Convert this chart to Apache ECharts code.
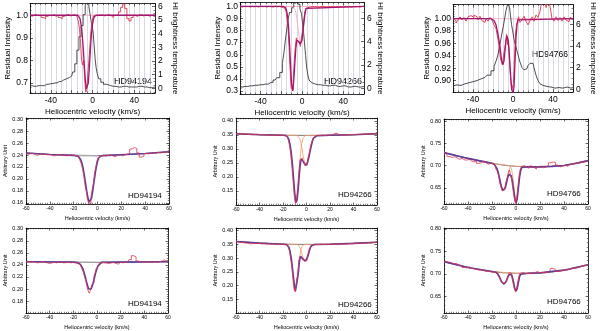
<!DOCTYPE html>
<html>
<head>
<meta charset="utf-8">
<script src="https://cdn.jsdelivr.net/npm/echarts@6/dist/echarts.min.js"></script>
<style>html,body{margin:0;padding:0;background:#fff}#c{width:600px;height:331px}</style>
</head>
<body>
<div id="c"></div>
<script>
// ---- top row: residual intensity + HI brightness temperature ----
const unitLevel = [[-60, 1], [60, 1]];

const hi94194 = [[-60,0.2],[-56,0.15],[-52,0.2],[-48,0.2],[-44,0.3],[-40,0.35],[-36,0.4],[-32,0.5],[-28,0.6],[-25,0.7],[-22,0.8],[-20,0.9],[-18,1.2],[-16,1.8],[-14,2.8],[-12,3.8],[-10,4.6],[-8,5.4],[-6,6.1],[-5,6.4],[-4,6.3],[-3,6.0],[-2,5.5],[-1,5.0],[0,4.6],[1,4.2],[2,3.2],[3,2.2],[4,1.5],[5,1.1],[7,0.7],[9,0.45],[12,0.3],[15,0.2],[20,0.15],[25,0.1],[30,0.15],[35,0.1],[40,0.1],[45,0.15],[50,0.1],[55,0.05],[60,0.1]];
const obs94194top = [[-60,1.0],[-58,0.995],[-56,1.0],[-54,1.002],[-52,0.998],[-50,1.0],[-48,0.99],[-46,0.985],[-44,0.995],[-42,1.0],[-40,0.998],[-38,1.003],[-36,0.995],[-34,1.0],[-32,0.99],[-30,0.985],[-28,0.995],[-26,1.0],[-24,1.003],[-22,0.997],[-20,1.0],[-18,1.002],[-16,0.998],[-14,0.99],[-13,0.97],[-12,0.94],[-11,0.88],[-10,0.8],[-9,0.78],[-8,0.8],[-7,0.72],[-6,0.66],[-5,0.67],[-4,0.74],[-3,0.8],[-2,0.86],[-1,0.93],[0,0.97],[1,0.99],[2,1.0],[4,1.0],[6,0.998],[8,1.002],[10,1.0],[12,0.997],[14,1.0],[16,1.003],[18,0.998],[20,0.99],[22,1.0],[24,1.005],[26,1.015],[28,1.035],[30,1.05],[32,1.03],[34,0.985],[36,0.975],[38,0.99],[40,1.0],[42,0.995],[44,1.0],[46,1.003],[48,0.997],[50,1.0],[52,1.002],[54,0.995],[56,1.0],[58,1.0],[60,1.0]];
const fit94194top = [[-60,1],[-14,1],[-12,0.985],[-11,0.96],[-10,0.92],[-9,0.86],[-8,0.79],[-7,0.72],[-6,0.675],[-5,0.67],[-4,0.7],[-3,0.77],[-2,0.85],[-1,0.92],[0,0.96],[1,0.985],[2,0.995],[4,1],[60,1]];

const hi94266 = [[-60,0.1],[-55,0.15],[-50,0.2],[-45,0.25],[-40,0.3],[-35,0.35],[-30,0.5],[-26,0.7],[-23,0.9],[-20,1.35],[-18,2.1],[-16.5,3.2],[-15,4.4],[-14,5.2],[-13,5.9],[-11,6.5],[-9,6.9],[-7,7.3],[-5,7.4],[-3,7.2],[-1,6.8],[0,6.4],[1,5.6],[2,4.8],[3,3.8],[4,2.8],[5,1.8],[6,1.2],[7,0.8],[8,0.6],[10,0.45],[13,0.35],[16,0.3],[20,0.25],[25,0.2],[30,0.25],[35,0.15],[40,0.2],[45,0.1],[50,0.15],[55,0.1],[60,0.15]];
const obs94266top = [[-60,1.0],[-58,0.995],[-56,1.0],[-54,0.998],[-52,1.0],[-50,0.995],[-48,1.0],[-46,0.997],[-44,1.0],[-42,0.995],[-40,1.0],[-38,0.998],[-36,1.0],[-34,0.995],[-32,1.0],[-30,0.998],[-28,0.995],[-26,1.0],[-24,0.997],[-22,1.0],[-20,0.995],[-18,0.99],[-16,0.98],[-15,0.96],[-14,0.9],[-13,0.82],[-12,0.66],[-11,0.48],[-10,0.32],[-9,0.31],[-8,0.4],[-7,0.55],[-6,0.66],[-5,0.74],[-4,0.71],[-3,0.7],[-2,0.7],[-1,0.67],[0,0.74],[1,0.8],[2,0.87],[3,0.94],[4,0.98],[5,0.99],[6,1.0],[8,0.995],[10,1.0],[12,0.997],[14,1.0],[16,0.995],[18,1.0],[20,0.998],[22,1.0],[24,0.995],[26,1.0],[28,0.997],[30,1.0],[32,0.995],[34,1.0],[36,0.997],[38,1.0],[40,0.995],[42,1.0],[44,0.998],[46,1.0],[48,0.995],[50,1.0],[52,0.997],[54,1.0],[56,0.995],[58,1.0],[60,1.0]];
const fit94266top = [[-60,1],[-18,1],[-16,0.99],[-15,0.97],[-14,0.92],[-13,0.83],[-12,0.68],[-11,0.5],[-10,0.35],[-9,0.3],[-8,0.38],[-7,0.52],[-6,0.65],[-5,0.72],[-4,0.73],[-3,0.71],[-2,0.69],[-1,0.68],[0,0.72],[1,0.8],[2,0.88],[3,0.95],[4,0.985],[5,1],[60,1]];
const comp94266top = [[-60,1],[-9,1],[-7,0.98],[-6,0.95],[-5,0.9],[-4,0.83],[-3,0.76],[-2,0.71],[-1,0.69],[0,0.72],[1,0.8],[2,0.88],[3,0.95],[4,0.985],[5,1],[60,1]];

const hi94766 = [[-60,0.3],[-56,0.4],[-52,0.35],[-48,0.5],[-44,0.6],[-40,0.7],[-36,0.8],[-32,0.95],[-28,1.1],[-24,1.3],[-20,1.7],[-18,2.1],[-16,2.6],[-14,3.2],[-12,4.2],[-10,5.2],[-8,6.2],[-6,7.3],[-4,8.0],[-3,7.6],[-2,6.8],[-1,6.0],[0,5.5],[2,4.6],[4,3.9],[6,3.2],[8,2.5],[10,2.0],[12,1.8],[14,1.9],[16,2.2],[18,2.4],[20,2.4],[22,2.0],[24,1.3],[26,0.8],[28,0.5],[30,0.35],[34,0.25],[38,0.2],[42,0.1],[46,0.15],[50,0.1],[54,0.2],[58,0.1],[60,0.15]];
const obs94766top = [[-60,1.0],[-58,0.997],[-56,0.993],[-54,0.998],[-52,1.003],[-50,0.998],[-48,1.002],[-46,0.996],[-44,1.003],[-42,1.005],[-40,1.002],[-38,1.006],[-36,1.003],[-34,0.998],[-32,1.004],[-30,0.997],[-28,0.994],[-26,1.0],[-24,0.996],[-22,1.002],[-20,0.998],[-18,0.99],[-16,0.984],[-14,0.966],[-13,0.95],[-12,0.935],[-11,0.932],[-10,0.925],[-9,0.94],[-8,0.942],[-7,0.96],[-6,0.975],[-5,0.958],[-4,0.966],[-3,0.93],[-2,0.905],[-1,0.885],[0,0.882],[1,0.895],[2,0.935],[3,0.975],[4,0.99],[5,0.996],[6,1.003],[8,0.994],[10,0.998],[12,1.004],[14,0.996],[16,0.99],[18,0.997],[20,1.003],[22,0.996],[24,1.006],[26,1.002],[28,1.012],[30,1.03],[32,1.03],[34,1.018],[36,1.03],[38,1.02],[40,1.0],[42,0.996],[44,1.003],[46,0.997],[48,1.002],[50,0.996],[52,1.003],[54,0.998],[56,0.995],[58,1.002],[60,1.0]];
const fit94766top = [[-60,1],[-22,1],[-19,0.997],[-17,0.99],[-15,0.975],[-13,0.955],[-12,0.94],[-11,0.93],[-10,0.926],[-9,0.932],[-8,0.948],[-7,0.965],[-6,0.972],[-5,0.966],[-4,0.95],[-3,0.925],[-2,0.9],[-1,0.884],[0,0.88],[1,0.89],[2,0.93],[3,0.97],[4,0.99],[5,0.998],[6,1],[60,1]];

// ---- middle row: arbitrary unit fits ----
const cont94194a = [[-60,0.2435],[-40,0.241],[-20,0.2395],[0,0.239],[20,0.2405],[40,0.2425],[60,0.2455]];
const core94194a = [[-20,0.2393],[0,0.2388]];
const obs94194a = [[-60,0.243],[-58,0.241],[-56,0.2425],[-54,0.243],[-52,0.2405],[-50,0.2395],[-48,0.242],[-46,0.241],[-44,0.2415],[-42,0.2405],[-40,0.241],[-38,0.2395],[-36,0.2385],[-34,0.24],[-32,0.2405],[-30,0.2395],[-28,0.24],[-26,0.2385],[-24,0.2395],[-22,0.2405],[-20,0.2395],[-18,0.239],[-16,0.2375],[-14,0.232],[-13,0.225],[-12,0.216],[-11,0.206],[-10,0.19],[-9,0.18],[-8,0.167],[-7,0.16],[-6,0.158],[-5,0.17],[-4,0.182],[-3,0.192],[-2,0.21],[-1,0.219],[0,0.23],[1,0.236],[2,0.238],[4,0.2395],[6,0.2385],[8,0.2395],[10,0.24],[12,0.2385],[14,0.237],[16,0.2395],[18,0.2405],[20,0.2385],[22,0.24],[24,0.2415],[26,0.243],[28,0.25],[30,0.2525],[32,0.251],[34,0.2435],[36,0.2365],[38,0.2385],[40,0.2425],[42,0.242],[44,0.2425],[46,0.244],[48,0.243],[50,0.2445],[52,0.2435],[54,0.245],[56,0.244],[58,0.2455],[60,0.245]];
const fit94194a = [[-60,0.2435],[-40,0.241],[-20,0.2395],[-16,0.2375],[-14,0.232],[-13,0.226],[-12,0.217],[-11,0.205],[-10,0.192],[-9,0.179],[-8,0.168],[-7,0.161],[-6,0.161],[-5,0.168],[-4,0.18],[-3,0.194],[-2,0.208],[-1,0.22],[0,0.229],[1,0.235],[3,0.2385],[5,0.239],[20,0.2405],[40,0.2425],[60,0.2455]];

const cont94266a = [[-60,0.354],[-40,0.3505],[-20,0.3485],[0,0.348],[20,0.3485],[40,0.3505],[60,0.354]];
const obs94266a = [[-60,0.355],[-58,0.353],[-56,0.354],[-54,0.352],[-52,0.3535],[-50,0.351],[-48,0.352],[-46,0.3505],[-44,0.351],[-42,0.352],[-40,0.3505],[-38,0.349],[-36,0.35],[-34,0.349],[-32,0.3495],[-30,0.348],[-28,0.349],[-26,0.3485],[-24,0.349],[-22,0.348],[-20,0.3485],[-18,0.347],[-16,0.341],[-15,0.332],[-14,0.313],[-13,0.285],[-12,0.242],[-11,0.19],[-10,0.137],[-9,0.105],[-8,0.12],[-7,0.162],[-6,0.218],[-5,0.262],[-4,0.266],[-3,0.256],[-2,0.25],[-1,0.24],[0,0.243],[1,0.251],[2,0.272],[3,0.288],[4,0.312],[5,0.325],[6,0.339],[7,0.345],[8,0.347],[10,0.3485],[12,0.348],[14,0.349],[16,0.3475],[18,0.349],[20,0.3485],[22,0.35],[24,0.355],[26,0.356],[28,0.3495],[30,0.349],[32,0.35],[34,0.3495],[36,0.351],[38,0.3505],[40,0.3515],[42,0.351],[44,0.352],[46,0.3515],[48,0.3525],[50,0.352],[52,0.353],[54,0.3535],[56,0.3535],[58,0.354],[60,0.3545]];
const fit94266a = [[-60,0.354],[-40,0.3505],[-20,0.3485],[-18,0.348],[-17,0.346],[-16,0.342],[-15,0.333],[-14,0.315],[-13,0.287],[-12,0.245],[-11,0.192],[-10,0.14],[-9,0.108],[-8,0.118],[-7,0.16],[-6,0.215],[-5,0.255],[-4,0.264],[-3,0.258],[-2,0.248],[-1,0.241],[0,0.242],[1,0.253],[2,0.27],[3,0.29],[4,0.31],[5,0.327],[6,0.338],[7,0.344],[9,0.347],[20,0.3485],[40,0.3505],[60,0.354]];
const compA94266a = [[-60,0.354],[-20,0.3485],[-17,0.346],[-16,0.342],[-15,0.333],[-14,0.315],[-13,0.287],[-12,0.245],[-11,0.192],[-10,0.142],[-9,0.112],[-8,0.125],[-7,0.172],[-6,0.235],[-5,0.287],[-4,0.32],[-3,0.338],[-2,0.345],[-1,0.348],[20,0.3485],[40,0.3505],[60,0.354]];
const compB94266a = [[-60,0.354],[-20,0.3485],[-8,0.348],[-7,0.346],[-6,0.338],[-5,0.326],[-4,0.305],[-3,0.28],[-2,0.258],[-1,0.244],[0,0.242],[1,0.253],[2,0.27],[3,0.29],[4,0.31],[5,0.327],[6,0.338],[7,0.344],[9,0.347],[20,0.3485],[40,0.3505],[60,0.354]];

const cont94766a = [[-60,0.729],[-50,0.722],[-40,0.716],[-30,0.71],[-20,0.705],[-10,0.7005],[0,0.698],[10,0.697],[20,0.697],[30,0.698],[40,0.7],[50,0.705],[60,0.711]];
const obs94766a = [[-60,0.73],[-58,0.726],[-56,0.72],[-54,0.718],[-52,0.72],[-50,0.717],[-48,0.714],[-46,0.716],[-44,0.713],[-42,0.712],[-40,0.714],[-38,0.71],[-36,0.708],[-34,0.71],[-32,0.705],[-30,0.706],[-28,0.71],[-26,0.706],[-24,0.703],[-22,0.705],[-20,0.704],[-18,0.701],[-16,0.693],[-15,0.687],[-14,0.676],[-13,0.66],[-12,0.652],[-11,0.643],[-10,0.645],[-9,0.648],[-8,0.662],[-7,0.67],[-6,0.682],[-5,0.69],[-4,0.678],[-3,0.667],[-2,0.645],[-1,0.628],[0,0.615],[1,0.627],[2,0.65],[3,0.676],[4,0.692],[5,0.698],[6,0.7],[8,0.696],[10,0.694],[12,0.699],[14,0.696],[16,0.692],[18,0.697],[20,0.699],[22,0.695],[24,0.697],[26,0.7],[28,0.706],[30,0.708],[32,0.707],[34,0.701],[36,0.697],[38,0.699],[40,0.701],[42,0.698],[44,0.702],[46,0.704],[48,0.703],[50,0.706],[52,0.705],[54,0.708],[56,0.707],[58,0.71],[60,0.712]];
const fit94766a = [[-60,0.729],[-40,0.716],[-22,0.706],[-20,0.705],[-18,0.702],[-17,0.699],[-16,0.694],[-15,0.686],[-14,0.675],[-13,0.662],[-12,0.651],[-11,0.644],[-10,0.643],[-9,0.649],[-8,0.66],[-7,0.672],[-6,0.68],[-5,0.682],[-4,0.677],[-3,0.665],[-2,0.646],[-1,0.626],[0,0.616],[1,0.625],[2,0.65],[3,0.675],[4,0.69],[5,0.696],[6,0.698],[10,0.697],[20,0.697],[30,0.698],[40,0.7],[50,0.705],[60,0.711]];
const compA94766a = [[-60,0.729],[-40,0.716],[-20,0.705],[-18,0.702],[-17,0.699],[-16,0.694],[-15,0.686],[-14,0.675],[-13,0.662],[-12,0.651],[-11,0.645],[-10,0.646],[-9,0.653],[-8,0.665],[-7,0.677],[-6,0.688],[-5,0.695],[-4,0.699],[-3,0.7],[0,0.698],[20,0.697],[40,0.7],[60,0.711]];
const compB94766a = [[-60,0.729],[-40,0.716],[-20,0.705],[-6,0.7],[-5,0.698],[-4,0.694],[-3,0.682],[-2,0.66],[-1,0.635],[0,0.622],[1,0.63],[2,0.653],[3,0.676],[4,0.69],[5,0.696],[6,0.698],[20,0.697],[40,0.7],[60,0.711]];

// ---- bottom row ----
const cont94194b = [[-60,0.2455],[0,0.2445],[60,0.2455]];
const obs94194b = [[-60,0.2455],[-58,0.245],[-56,0.2445],[-54,0.2455],[-52,0.2445],[-50,0.2435],[-48,0.2445],[-46,0.2455],[-44,0.2445],[-42,0.2435],[-40,0.2425],[-38,0.2435],[-36,0.2445],[-34,0.2435],[-32,0.2455],[-30,0.2445],[-28,0.2435],[-26,0.244],[-24,0.2445],[-22,0.2435],[-20,0.2445],[-18,0.244],[-16,0.2425],[-14,0.24],[-13,0.238],[-12,0.232],[-11,0.228],[-10,0.22],[-9,0.214],[-8,0.204],[-7,0.197],[-6,0.193],[-5,0.198],[-4,0.207],[-3,0.21],[-2,0.222],[-1,0.227],[0,0.235],[1,0.238],[2,0.242],[4,0.2445],[6,0.244],[8,0.2435],[10,0.2425],[12,0.2435],[14,0.2445],[16,0.2425],[18,0.2415],[20,0.2445],[22,0.2435],[24,0.2445],[26,0.2455],[28,0.249],[30,0.2555],[32,0.2535],[34,0.2465],[36,0.2445],[38,0.2455],[40,0.2445],[42,0.2455],[44,0.245],[46,0.2445],[48,0.2455],[50,0.2445],[52,0.2455],[54,0.2465],[56,0.2485],[58,0.2465],[60,0.2455]];
const fit94194b = [[-60,0.2455],[-20,0.2447],[-16,0.2435],[-14,0.241],[-13,0.238],[-12,0.234],[-11,0.228],[-10,0.221],[-9,0.213],[-8,0.206],[-7,0.2],[-6,0.198],[-5,0.2],[-4,0.205],[-3,0.212],[-2,0.22],[-1,0.228],[0,0.234],[1,0.239],[2,0.242],[4,0.2443],[20,0.2448],[60,0.2455]];

const cont94266b = [[-60,0.361],[-40,0.355],[-20,0.351],[0,0.35],[20,0.351],[40,0.354],[60,0.358]];
const obs94266b = [[-60,0.36],[-58,0.359],[-56,0.357],[-54,0.357],[-52,0.355],[-50,0.354],[-48,0.352],[-46,0.353],[-44,0.354],[-42,0.353],[-40,0.354],[-38,0.352],[-36,0.353],[-34,0.351],[-32,0.352],[-30,0.351],[-28,0.352],[-26,0.3505],[-24,0.351],[-22,0.3505],[-20,0.351],[-18,0.35],[-16,0.347],[-15,0.339],[-14,0.327],[-13,0.298],[-12,0.268],[-11,0.222],[-10,0.185],[-9,0.177],[-8,0.22],[-7,0.24],[-6,0.292],[-5,0.306],[-4,0.308],[-3,0.295],[-2,0.29],[-1,0.287],[0,0.292],[1,0.308],[2,0.318],[3,0.337],[4,0.344],[5,0.348],[6,0.35],[8,0.349],[10,0.35],[12,0.351],[14,0.3495],[16,0.351],[18,0.35],[20,0.351],[22,0.3505],[24,0.352],[26,0.3515],[28,0.351],[30,0.352],[32,0.3515],[34,0.352],[36,0.353],[38,0.3525],[40,0.354],[42,0.353],[44,0.354],[46,0.355],[48,0.3545],[50,0.355],[52,0.356],[54,0.3555],[56,0.357],[58,0.357],[60,0.358]];
const fit94266b = [[-60,0.361],[-40,0.355],[-20,0.351],[-17,0.35],[-16,0.347],[-15,0.34],[-14,0.325],[-13,0.3],[-12,0.265],[-11,0.225],[-10,0.19],[-9.5,0.18],[-9,0.185],[-8,0.215],[-7,0.245],[-6,0.29],[-5,0.307],[-4,0.305],[-3,0.297],[-2,0.29],[-1,0.289],[0,0.293],[1,0.305],[2,0.32],[3,0.335],[4,0.345],[5,0.349],[7,0.35],[20,0.351],[40,0.354],[60,0.358]];
const compA94266b = [[-60,0.361],[-40,0.355],[-20,0.351],[-17,0.35],[-16,0.347],[-15,0.34],[-14,0.325],[-13,0.3],[-12,0.265],[-11,0.225],[-10,0.19],[-9.5,0.182],[-9,0.186],[-8,0.218],[-7,0.258],[-6,0.3],[-5,0.327],[-4,0.342],[-3,0.348],[-2,0.35],[0,0.35],[20,0.351],[40,0.354],[60,0.358]];
const compB94266b = [[-60,0.361],[-40,0.355],[-20,0.351],[-8,0.35],[-7,0.348],[-6,0.343],[-5,0.333],[-4,0.318],[-3,0.303],[-2,0.292],[-1,0.289],[0,0.293],[1,0.305],[2,0.32],[3,0.335],[4,0.345],[5,0.349],[7,0.35],[20,0.351],[40,0.354],[60,0.358]];

const cont94766b = [[-60,0.727],[-50,0.72],[-40,0.714],[-30,0.709],[-20,0.705],[-10,0.702],[0,0.701],[10,0.701],[20,0.702],[30,0.704],[40,0.708],[50,0.713],[60,0.72]];
const obs94766b = [[-60,0.728],[-58,0.727],[-56,0.726],[-54,0.725],[-52,0.722],[-50,0.723],[-48,0.72],[-46,0.719],[-44,0.714],[-42,0.713],[-40,0.716],[-38,0.712],[-36,0.711],[-34,0.71],[-32,0.708],[-30,0.709],[-28,0.707],[-26,0.705],[-24,0.706],[-22,0.704],[-20,0.703],[-18,0.704],[-16,0.702],[-14,0.695],[-13,0.69],[-12,0.683],[-11,0.679],[-10,0.677],[-9,0.68],[-8,0.683],[-7,0.69],[-6,0.697],[-5,0.703],[-4,0.7],[-3,0.693],[-2,0.68],[-1,0.668],[0,0.66],[1,0.668],[2,0.682],[3,0.696],[4,0.701],[6,0.703],[8,0.701],[10,0.7],[12,0.702],[14,0.7],[16,0.703],[18,0.705],[20,0.702],[22,0.703],[24,0.702],[26,0.703],[28,0.706],[30,0.712],[32,0.71],[34,0.705],[36,0.706],[38,0.707],[40,0.71],[42,0.708],[44,0.711],[46,0.713],[48,0.712],[50,0.713],[52,0.715],[54,0.717],[56,0.719],[58,0.718],[60,0.72]];
const fit94766b = [[-60,0.727],[-40,0.714],[-20,0.705],[-17,0.7035],[-16,0.702],[-15,0.699],[-14,0.694],[-13,0.688],[-12,0.682],[-11,0.678],[-10,0.677],[-9,0.679],[-8,0.684],[-7,0.691],[-6,0.697],[-5,0.7],[-4,0.699],[-3,0.692],[-2,0.68],[-1,0.667],[0,0.661],[1,0.667],[2,0.681],[3,0.694],[4,0.699],[5,0.701],[10,0.701],[20,0.702],[40,0.708],[60,0.72]];
const compA94766b = [[-60,0.727],[-40,0.714],[-20,0.705],[-16,0.702],[-15,0.699],[-14,0.694],[-13,0.688],[-12,0.682],[-11,0.678],[-10,0.677],[-9,0.679],[-8,0.685],[-7,0.692],[-6,0.698],[-5,0.701],[-4,0.702],[0,0.701],[20,0.702],[40,0.708],[60,0.72]];
const compB94766b = [[-60,0.727],[-40,0.714],[-20,0.705],[-5,0.702],[-4,0.701],[-3,0.694],[-2,0.681],[-1,0.668],[0,0.661],[1,0.667],[2,0.681],[3,0.694],[4,0.699],[5,0.701],[10,0.701],[20,0.702],[40,0.708],[60,0.72]];

const FONT = 'Liberation Sans';
const RED = '#e3344c', PINK = '#f4a6b8', MAGENTA = '#a3166f', PURPLE = '#5b3d9e', ORANGE = '#f39a6b', BLACK = '#222';

const panels = [
  {box:[30,2,125,91], top:true, y:{min:0.656,max:1.052,step:0.1,dec:1}, y2:{min:-0.34,max:6.22,step:1,dec:0},
   yGap:14, y2Gap:16, star:['HD94194',114,77,9],
   lines:[{d:unitLevel,c:PINK,w:0.8},{d:hi94194,ax2:true,c:BLACK,w:0.8,step:true},{d:obs94194top,c:RED,w:0.9,step:true},{d:fit94194top,c:MAGENTA,w:1.3}]},
  {box:[240,1,124,93], top:true, y:{min:0.275,max:1.033,step:0.1,dec:1}, y2:{min:-0.5,max:7.35,step:2,dec:0},
   yGap:12, y2Gap:12, star:['HD94266',324,77,9],
   lines:[{d:unitLevel,c:PINK,w:0.8},{d:hi94266,ax2:true,c:BLACK,w:0.8,step:true},{d:comp94266top,c:PINK,w:0.8},{d:obs94266top,c:RED,w:0.9,step:true},{d:fit94266top,c:MAGENTA,w:1.3}]},
  {box:[453,0,120,92], top:true, y:{min:0.8815,max:1.023,step:0.02,dec:2,hide:[1.02]}, y2:{min:-0.26,max:7.85,step:2,dec:0},
   yGap:20, y2Gap:16, star:['HD94766',532,50,8.5],
   lines:[{d:unitLevel,c:PINK,w:0.8},{d:hi94766,ax2:true,c:BLACK,w:0.8,step:true},{d:obs94766top,c:RED,w:0.9,step:true},{d:fit94766top,c:MAGENTA,w:1.3}]},
  {box:[26,118,143,86], y:{min:0.158,max:0.302,step:0.02,dec:2}, yGap:13, star:['HD94194',128,192,8],
   lines:[{d:cont94194a,c:BLACK,w:0.6},{d:core94194a,c:'#aaa',w:1.6},{d:fit94194a,c:PURPLE,w:1.6},{d:obs94194a,c:RED,w:0.8,step:true}]},
  {box:[236,118,141,87], y:{min:0.10,max:0.41,step:0.05,dec:2,hide:[0.10]}, yGap:16, star:['HD94266',338,191,8],
   lines:[{d:cont94266a,c:BLACK,w:0.6},{d:compA94266a,c:ORANGE,w:0.8},{d:compB94266a,c:ORANGE,w:0.8},{d:fit94266a,c:PURPLE,w:1.6},{d:obs94266a,c:RED,w:0.8,step:true}]},
  {box:[444,119,144,85], y:{min:0.6136,max:0.8045,step:0.05,dec:2}, yGap:15, star:['HD94766',547,190,8],
   lines:[{d:cont94766a,c:BLACK,w:0.6},{d:compA94766a,c:ORANGE,w:0.8},{d:compB94766a,c:ORANGE,w:0.8},{d:fit94766a,c:PURPLE,w:1.6},{d:obs94766a,c:RED,w:0.8,step:true}]},
  {box:[26,228,142,86], y:{min:0.16,max:0.3016,step:0.02,dec:2,hide:[0.16]}, yGap:13, star:['HD94194',128,300,8],
   lines:[{d:cont94194b,c:BLACK,w:0.6},{d:fit94194b,c:PURPLE,w:1.6},{d:obs94194b,c:RED,w:0.8,step:true}]},
  {box:[236,228,141,87], y:{min:0.10,max:0.41,step:0.05,dec:2,hide:[0.10]}, yGap:16, star:['HD94266',338,301,8],
   lines:[{d:cont94266b,c:BLACK,w:0.6},{d:compA94266b,c:ORANGE,w:0.8},{d:compB94266b,c:ORANGE,w:0.8},{d:fit94266b,c:PURPLE,w:1.6},{d:obs94266b,c:RED,w:0.8,step:true}]},
  {box:[444,228,144,86], y:{min:0.6125,max:0.802,step:0.05,dec:2}, yGap:15, star:['HD94766',547,298,8],
   lines:[{d:cont94766b,c:BLACK,w:0.6},{d:compA94766b,c:ORANGE,w:0.8},{d:compB94766b,c:ORANGE,w:0.8},{d:fit94766b,c:PURPLE,w:1.6},{d:obs94766b,c:RED,w:0.8,step:true}]}
];

function yAx(gi, r, pos, o) {
  const fmt = v => {
    const k = v / r.step;
    if (Math.abs(k - Math.round(k)) > 1e-6) return '';
    if (r.hide && r.hide.some(h => Math.abs(h - v) < 1e-9)) return '';
    return v.toFixed(r.dec);
  };
  return {
    type: 'value', gridIndex: gi, position: pos, min: r.min, max: r.max,
    splitNumber: Math.round((r.max - r.min) / r.step), minInterval: r.step, maxInterval: r.step,
    axisLine: {show: true, onZero: false, lineStyle: {color: '#000', width: 0.8}},
    axisTick: {show: true, inside: true, length: o.tick, lineStyle: {color: '#000', width: 0.6}},
    minorTick: {show: true, splitNumber: o.minor, length: o.tick / 2, lineStyle: {color: '#000', width: 0.5}},
    axisLabel: {show: o.labels, formatter: fmt, fontSize: o.fs, fontFamily: FONT, color: '#000', margin: o.margin},
    splitLine: {show: false},
    name: o.name, nameLocation: 'middle', nameGap: o.gap, nameRotate: o.rot,
    nameTextStyle: {fontSize: o.nfs, fontFamily: FONT, color: '#000'}
  };
}

function xAx(gi, pos, o) {
  const grid = {show: !!o.vgrid, lineStyle: {color: '#c9c9dd', width: 0.7}};
  return {
    type: 'value', gridIndex: gi, position: pos, min: -60, max: 60, interval: 20,
    axisLine: {show: true, onZero: false, lineStyle: {color: '#000', width: 0.8}},
    axisTick: {show: true, inside: true, length: o.tick, lineStyle: {color: '#000', width: 0.6}},
    minorTick: {show: true, splitNumber: o.minor, length: o.tick / 2, lineStyle: {color: '#000', width: 0.5}},
    axisLabel: {show: o.labels, formatter: v => (v % o.every === 0 ? String(v) : ''), fontSize: o.fs, fontFamily: FONT, color: '#000', margin: o.margin},
    splitLine: grid, minorSplitLine: grid,
    name: o.name, nameLocation: 'middle', nameGap: o.gap,
    nameTextStyle: {fontSize: o.nfs, fontFamily: FONT, color: '#000'}
  };
}

const grids = [], xAxes = [], yAxes = [], series = [], texts = [];
panels.forEach((p, gi) => {
  const top = !!p.top;
  grids.push({left: p.box[0], top: p.box[1], width: p.box[2], height: p.box[3], containLabel: false});
  const xi = xAxes.length, yi = yAxes.length;
  const tick = top ? 3 : 2.5;
  xAxes.push(xAx(gi, 'bottom', {labels: true, every: top ? 40 : 20, fs: top ? 8.5 : 5, margin: top ? 3 : 2.5,
    vgrid: top, minor: top ? 4 : 10, tick, name: 'Heliocentric velocity (km/s)', nfs: top ? 8 : 5.5, gap: top ? 15 : 11}));
  xAxes.push(xAx(gi, 'top', {labels: false, vgrid: false, minor: top ? 4 : 10, tick}));
  yAxes.push(yAx(gi, p.y, 'left', {labels: true, fs: top ? 8.5 : 5.5, margin: top ? 2 : 3, minor: 5, tick,
    name: top ? 'Residual Intensity' : 'Arbitrary Unit', gap: p.yGap, rot: 90, nfs: top ? 8 : 5.5}));
  if (top) {
    yAxes.push(yAx(gi, p.y2, 'right', {labels: true, fs: 8.5, margin: 3, minor: 4, tick,
      name: 'HI brightness temperature', gap: p.y2Gap, rot: -90, nfs: 8}));
  } else {
    yAxes.push(yAx(gi, p.y, 'right', {labels: false, minor: 5, tick}));
  }
  p.lines.forEach(l => series.push({
    type: 'line', xAxisIndex: xi, yAxisIndex: l.ax2 ? yi + 1 : yi, data: l.d,
    step: l.step ? 'middle' : false, symbol: 'none', silent: true, clip: true,
    lineStyle: {color: l.c, width: l.w}
  }));
  texts.push({type: 'text', left: p.star[1], top: p.star[2],
    style: {text: p.star[0], font: p.star[3] + 'px "' + FONT + '"', fill: '#000'}});
});

const chart = echarts.init(document.getElementById('c'), null, {renderer: 'canvas'});
chart.setOption({
  animation: false,
  backgroundColor: '#fff',
  grid: grids, xAxis: xAxes, yAxis: yAxes, series: series,
  graphic: texts
});
</script>
</body>
</html>
